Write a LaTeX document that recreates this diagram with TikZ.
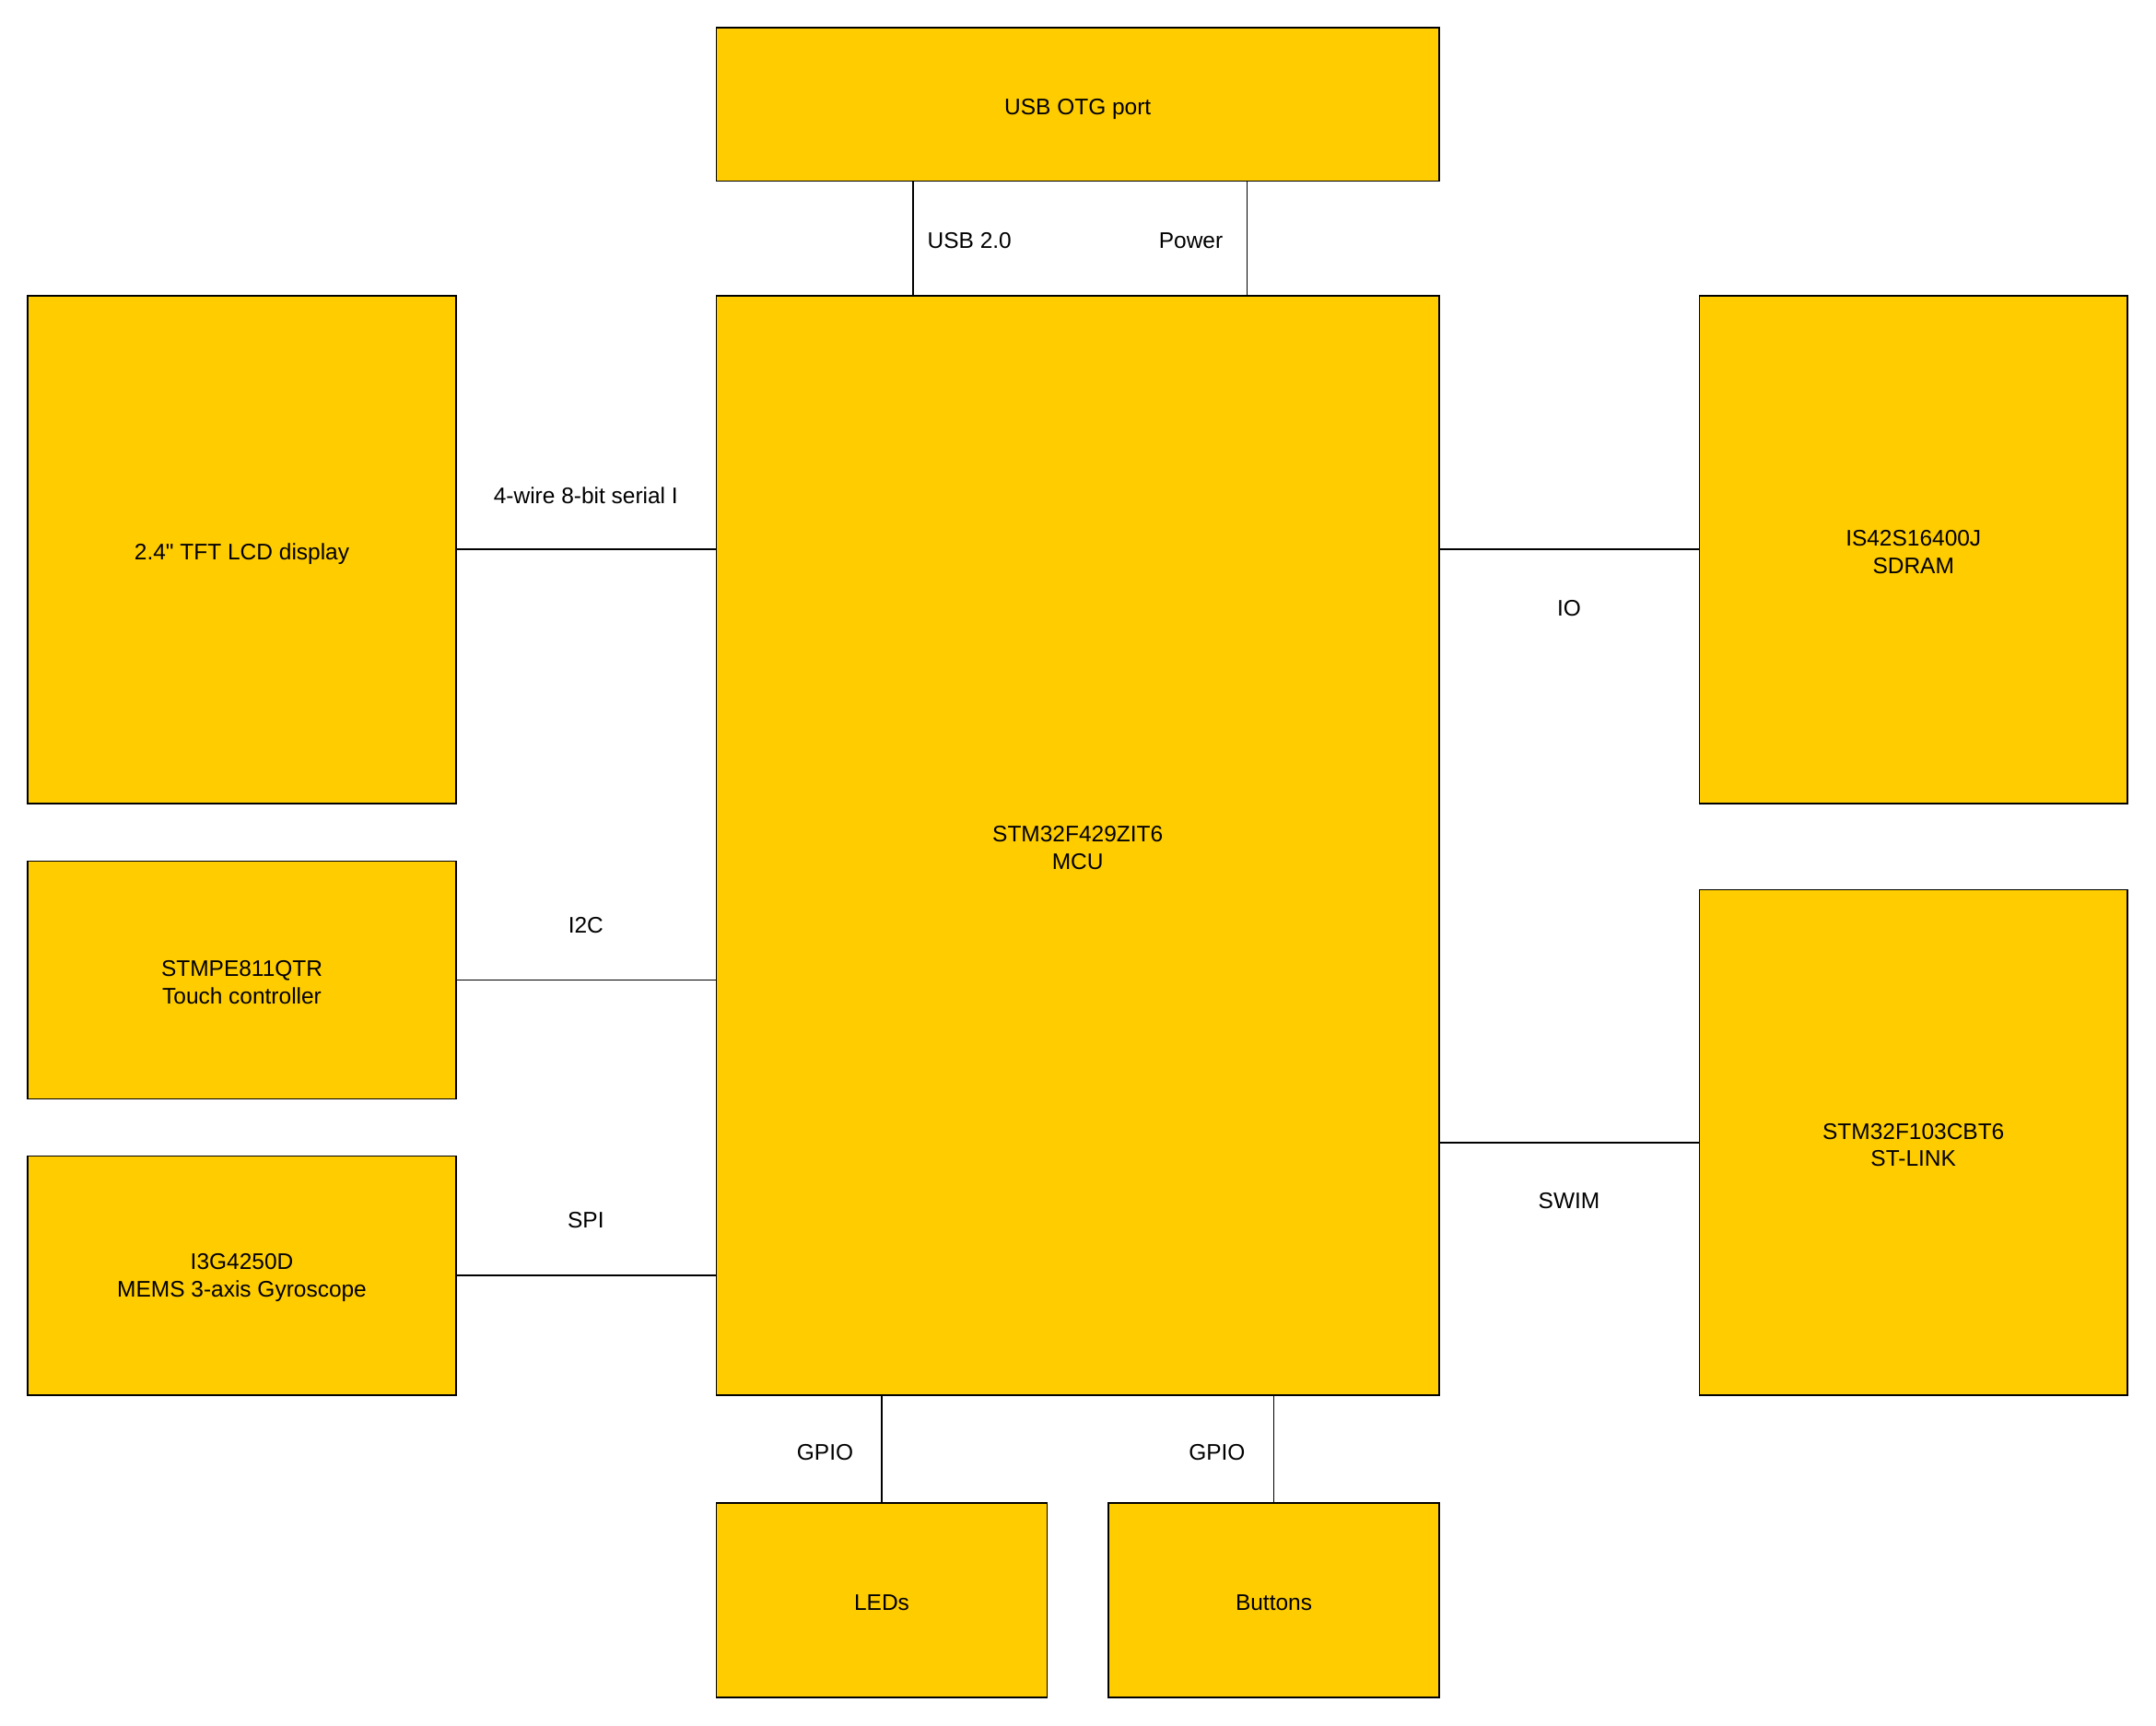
\documentclass[tikz,border=0pt]{standalone}
\usepackage{fontspec}
\setmainfont{Liberation Sans}[Ligatures=TeXOff]
\definecolor{boxfill}{HTML}{FFCC00}
\begin{document}
\begin{tikzpicture}[x=1pt,y=-1pt,
  every node/.style={font=\fontsize{16.4}{20}\selectfont},
  blk/.style={draw=black,fill=boxfill,line width=1pt,inner sep=0pt,outer sep=0pt},
  txt/.style={inner sep=0pt,align=center,yshift=-1.8pt},
  flat/.style={text depth=0pt},
  lbl/.style={inner sep=0pt,yshift=-1pt},
  link/.style={draw=black,line width=1pt}]
\fill[white] (0,0) rectangle (1567.8,1254.9);
\useasboundingbox (0,0) rectangle (1567.8,1254.9);
% blocks
\node[blk,minimum width=525.8pt,minimum height=111.4pt] (usb) at (783.7,75.8) {};
\node[blk,minimum width=525.8pt,minimum height=799.3pt] (mcu) at (783.7,614.75) {};
\node[blk,minimum width=311.6pt,minimum height=369pt] (lcd) at (175.9,399.6) {};
\node[blk,minimum width=311.6pt,minimum height=173pt] (touch) at (175.9,712.5) {};
\node[blk,minimum width=311.6pt,minimum height=174pt] (gyro) at (175.9,927.4) {};
\node[blk,minimum width=311.4pt,minimum height=369pt] (sdram) at (1391.4,399.6) {};
\node[blk,minimum width=311.4pt,minimum height=367.4pt] (stlink) at (1391.4,830.7) {};
\node[blk,minimum width=240.8pt,minimum height=141.4pt] (leds) at (641.2,1163.5) {};
\node[blk,minimum width=240.6pt,minimum height=141.4pt] (buttons) at (926.3,1163.5) {};
% block texts
\node[txt,flat] (usbt) at (usb) {USB OTG port};
\node[txt] (mcut) at (mcu) {STM32F429ZIT6\\MCU};
\node[txt,flat] (lcdt) at (lcd) {2.4" TFT LCD display};
\node[txt] (toucht) at (touch) {STMPE811QTR\\Touch controller};
\node[txt] (gyrot) at (gyro) {I3G4250D\\MEMS 3-axis Gyroscope};
\node[txt] (sdramt) at (sdram) {IS42S16400J\\SDRAM};
\node[txt] (stlinkt) at (stlink) {STM32F103CBT6\\ST-LINK};
\node[txt] (ledst) at (leds) {LEDs};
\node[txt] (buttonst) at (buttons) {Buttons};
% connector positions
\coordinate (xusb) at (664,0);
\coordinate (xpow) at (907,0);
\coordinate (xled) at (641.2,0);
\coordinate (xbtn) at (926.3,0);
\coordinate (ylcd) at (0,399.3);
\coordinate (ytch) at (0,712.5);
\coordinate (ygyr) at (0,927.4);
\coordinate (ysdr) at (0,399.3);
\coordinate (ystl) at (0,830.7);
% connectors
\draw[link] (usb.south -| xusb) -- (mcu.north -| xusb);
\draw[link] (usb.south -| xpow) -- (mcu.north -| xpow);
\draw[link] (lcd.east |- ylcd) -- (mcu.west |- ylcd);
\draw[link] (touch.east |- ytch) -- (mcu.west |- ytch);
\draw[link] (gyro.east |- ygyr) -- (mcu.west |- ygyr);
\draw[link] (mcu.east |- ysdr) -- (sdram.west |- ysdr);
\draw[link] (mcu.east |- ystl) -- (stlink.west |- ystl);
\draw[link] (mcu.south -| xled) -- (leds.north -| xled);
\draw[link] (mcu.south -| xbtn) -- (buttons.north -| xbtn);
% labels
\node[lbl] (l1) at (705,174) {USB 2.0};
\node[lbl] (l2) at (866,174) {Power};
\node[lbl] (l3) at (426,359) {4-wire 8-bit serial I};
\node[lbl] (l4) at (426,672) {I2C};
\node[lbl] (l5) at (426,886) {SPI};
\node[lbl] (l6) at (1141,441) {IO};
\node[lbl] (l7) at (1141,872) {SWIM};
\node[lbl] (l8) at (600,1055) {GPIO};
\node[lbl] (l9) at (885,1055) {GPIO};
\end{tikzpicture}
\end{document}
